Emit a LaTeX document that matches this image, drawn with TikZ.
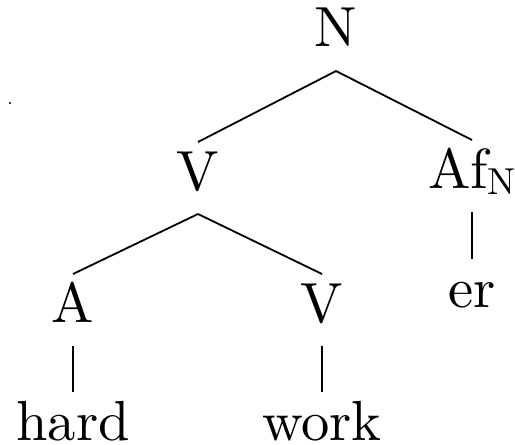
\documentclass[tikz,border=0pt]{standalone}
\usepackage{fontspec}
\newfontfamily\treefont{lmroman10-regular}[Extension=.otf]
\begin{document}
\begin{tikzpicture}[x=0.44pt,y=-0.44pt,
  lab/.style={font=\fontsize{24.88}{30}\treefont, inner sep=0pt, anchor=base},
  edge/.style={line width=0.8pt}]
\useasboundingbox (0,0) rectangle (515,444);
\fill (10,103) circle (1.2);
\node[lab] (N) at (336,47) {N};
\node[lab] (V1) at (198,190) {V};
\node[lab] (Af) at (472,188) {Af\raisebox{-3pt}{\fontsize{16.5}{20}\treefont N}};
\node[lab] (A) at (73,322) {A};
\node[lab] (V2) at (322,322) {V};
\node[lab] (er) at (472,307) {er};
\node[lab] (hard) at (73,440) {hard};
\node[lab] (work) at (322,440) {work};
\draw[edge] ([yshift=-24*0.44pt]N.base) -- ([yshift=48*0.44pt]V1.base);
\draw[edge] ([yshift=-24*0.44pt]N.base) -- ([yshift=48*0.44pt]Af.base);
\draw[edge] ([yshift=-24*0.44pt]V1.base) -- ([yshift=48*0.44pt]A.base);
\draw[edge] ([yshift=-24*0.44pt]V1.base) -- ([yshift=48*0.44pt]V2.base);
\draw[edge] ([yshift=-24*0.44pt]Af.base) -- ([yshift=48*0.44pt]er.base);
\draw[edge] ([yshift=-24*0.44pt]A.base) -- ([yshift=48*0.44pt]hard.base);
\draw[edge] ([yshift=-24*0.44pt]V2.base) -- ([yshift=48*0.44pt]work.base);
\end{tikzpicture}
\end{document}
